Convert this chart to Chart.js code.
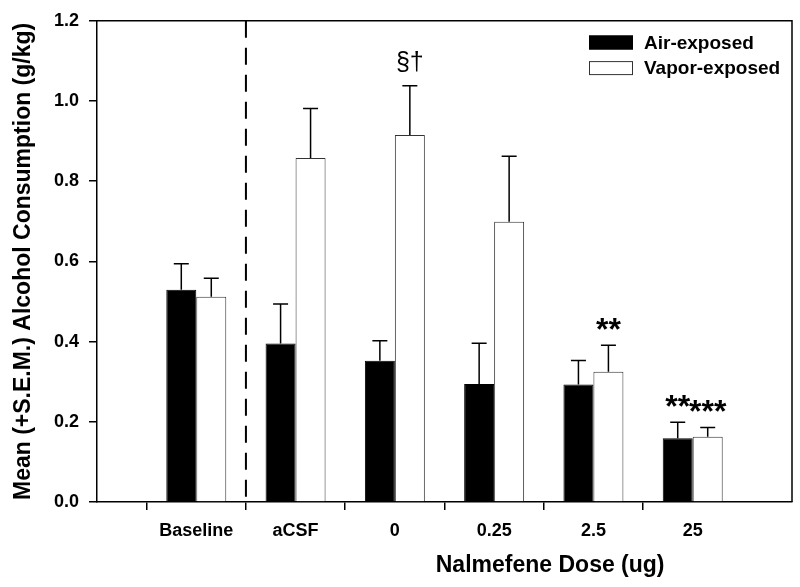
<!DOCTYPE html>
<html><head><meta charset="utf-8">
<script src="https://cdn.jsdelivr.net/npm/chart.js@4.4.1/dist/chart.umd.min.js"></script>
<style>html,body{margin:0;padding:0;background:#fff;} canvas{display:block;}</style>
</head><body>
<canvas id="c" width="800" height="587"></canvas>
<script>
const categories = ['Baseline', 'aCSF', '0', '0.25', '2.5', '25'];
const seriesNames = ['Air-exposed', 'Vapor-exposed'];
const airMeans = [0.529, 0.395, 0.352, 0.294, 0.293, 0.159];
const airSEM = [0.065, 0.099, 0.050, 0.102, 0.060, 0.040];
const vaporMeans = [0.512, 0.858, 0.915, 0.699, 0.325, 0.163];
const vaporSEM = [0.046, 0.123, 0.123, 0.163, 0.066, 0.023];
const yTicks = [0, 0.2, 0.4, 0.6, 0.8, 1.0, 1.2];
const annotCategory = ['0', '2.5', '25', '25'];
const annotSeries = [1, 1, 0, 1];
const annotText = ['\u00A7\u2020', '**', '**', '***'];
const dividerAfter = 'Baseline';
const xTitle = 'Nalmefene Dose (ug)';
const yTitle = 'Mean (+S.E.M.) Alcohol Consumption (g/kg)';

const F = "'Liberation Sans', Arial, sans-serif";
Chart.defaults.font.family = F;
Chart.defaults.color = '#000';

const xLabels = ['', ...categories, ''];
const pad = v => [null, ...v, null];

const frame = {
  id: 'frame',
  afterDatasetsDraw(chart) {
    const {ctx, chartArea: a} = chart;
    ctx.save();
    ctx.strokeStyle = '#000';
    ctx.lineWidth = 1.5;
    ctx.beginPath();
    ctx.moveTo(a.left, a.top);
    ctx.lineTo(a.right, a.top);
    ctx.lineTo(a.right, a.bottom);
    ctx.stroke();
    ctx.restore();
  }
};

const divider = {
  id: 'divider',
  beforeDatasetsDraw(chart) {
    const {ctx, chartArea: a, scales: {x}} = chart;
    const i = xLabels.indexOf(dividerAfter);
    const px = (x.getPixelForTick(i) + x.getPixelForTick(i + 1)) / 2;
    ctx.save();
    ctx.strokeStyle = '#000';
    ctx.lineWidth = 2;
    ctx.setLineDash([17, 10]);
    ctx.beginPath();
    ctx.moveTo(px, a.top);
    ctx.lineTo(px, a.bottom);
    ctx.stroke();
    ctx.restore();
  }
};

function errTop(chart, di, idx) {
  const ds = chart.data.datasets[di];
  return chart.scales.y.getPixelForValue(ds.data[idx] + ds.sem[idx]);
}

const errorBars = {
  id: 'errorBars',
  afterDatasetsDraw(chart) {
    const {ctx} = chart;
    ctx.save();
    ctx.strokeStyle = '#000';
    ctx.lineWidth = 1.5;
    chart.data.datasets.forEach((ds, di) => {
      const meta = chart.getDatasetMeta(di);
      meta.data.forEach((el, idx) => {
        if (ds.data[idx] == null) return;
        const yt = errTop(chart, di, idx);
        ctx.beginPath();
        ctx.moveTo(el.x, el.y);
        ctx.lineTo(el.x, yt);
        ctx.moveTo(el.x - 7.5, yt);
        ctx.lineTo(el.x + 7.5, yt);
        ctx.stroke();
      });
    });
    ctx.restore();
  }
};

const annotations = {
  id: 'annotations',
  afterDatasetsDraw(chart) {
    const {ctx} = chart;
    ctx.save();
    ctx.fillStyle = '#000';
    ctx.textAlign = 'center';
    ctx.textBaseline = 'alphabetic';
    annotText.forEach((t, k) => {
      const idx = xLabels.indexOf(annotCategory[k]);
      const di = annotSeries[k];
      const el = chart.getDatasetMeta(di).data[idx];
      const yt = errTop(chart, di, idx);
      const star = t.indexOf('*') >= 0;
      ctx.font = star ? 'bold 32px ' + F : '25px ' + F;
      const m = ctx.measureText(t);
      const base = yt - (star ? 15 : 14) - m.actualBoundingBoxDescent;
      ctx.fillText(t, el.x, base);
    });
    ctx.restore();
  }
};

const xTitlePlugin = {
  id: 'xTitlePlugin',
  afterDraw(chart) {
    const {ctx, chartArea: a} = chart;
    ctx.save();
    ctx.fillStyle = '#000';
    ctx.font = 'bold 23px ' + F;
    ctx.textAlign = 'center';
    ctx.textBaseline = 'middle';
    ctx.fillText(xTitle, a.left + 0.652 * (a.right - a.left), 566);
    ctx.restore();
  }
};

const legendBox = {
  id: 'legendBox',
  afterDraw(chart) {
    const {ctx, chartArea: a} = chart;
    ctx.save();
    const bx = a.right - 203;
    chart.data.datasets.forEach((ds, i) => {
      const cy = a.top + 21.7 + i * 25.6;
      ctx.fillStyle = ds.backgroundColor;
      ctx.fillRect(bx, cy - 7, 44, 14);
      ctx.strokeStyle = ds.borderColor;
      ctx.lineWidth = 1;
      ctx.strokeRect(bx + 0.5, cy - 6.5, 43, 13);
      ctx.fillStyle = '#000';
      ctx.font = 'bold 19px ' + F;
      ctx.textAlign = 'left';
      ctx.textBaseline = 'middle';
      ctx.fillText(ds.label, bx + 55, cy + 1);
    });
    ctx.restore();
  }
};

new Chart(document.getElementById('c'), {
  type: 'bar',
  data: {
    labels: xLabels,
    datasets: [
      {label: seriesNames[0], data: pad(airMeans), sem: pad(airSEM), backgroundColor: '#000', borderColor: '#000', borderWidth: 1},
      {label: seriesNames[1], data: pad(vaporMeans), sem: pad(vaporSEM), backgroundColor: '#fff', borderColor: '#333', borderWidth: 1}
    ]
  },
  options: {
    responsive: false,
    animation: false,
    devicePixelRatio: 1,
    layout: {padding: {top: 15, right: 8, left: 0, bottom: 0}},
    plugins: {legend: {display: false}, tooltip: {enabled: false}},
    datasets: {bar: {categoryPercentage: 0.604, barPercentage: 1}},
    scales: {
      x: {
        type: 'category',
        offset: false,
        grid: {
          drawOnChartArea: false, drawTicks: true, tickLength: 8, lineWidth: 1.5,
          color: c => (c.tick && c.tick.label === '') ? 'rgba(0,0,0,0)' : '#000'
        },
        border: {display: true, color: '#000', width: 1.5},
        ticks: {font: {size: 18, weight: 'bold', lineHeight: 1.45}, padding: 8, maxRotation: 0, autoSkip: false},
        title: {display: false},
        afterFit: s => { s.height = 85; }
      },
      y: {
        min: 0, max: 1.2,
        afterBuildTicks: s => { s.ticks = yTicks.map(v => ({value: v})); },
        ticks: {font: {size: 18, weight: 'bold'}, padding: 10, callback: v => Number(v).toFixed(1)},
        grid: {drawOnChartArea: false, tickLength: 8, lineWidth: 1.5, color: '#000'},
        border: {display: true, color: '#000', width: 1.5},
        title: {display: true, text: yTitle, font: {size: 23, weight: 'bold'}, padding: {top: 10, bottom: 0}},
        afterFit: s => { s.width = 97; }
      }
    }
  },
  plugins: [divider, errorBars, annotations, frame, legendBox, xTitlePlugin]
});
</script>
</body></html>
